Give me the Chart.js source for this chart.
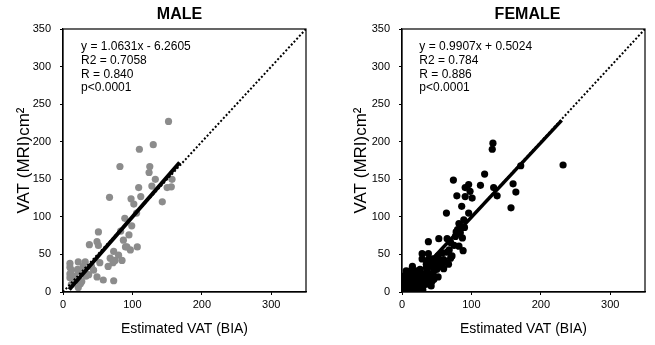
<!DOCTYPE html>
<html>
<head>
<meta charset="utf-8">
<script src="https://cdn.jsdelivr.net/npm/chart.js@4/dist/chart.umd.min.js"></script>
<style>
  body { margin: 0; background: #fff; }
  #wrap { position: relative; width: 655px; height: 345px; }
  canvas { position: absolute; top: 0; }
</style>
</head>
<body>
<div id="wrap">
  <canvas id="male" width="327" height="345" style="left:0"></canvas>
  <canvas id="female" width="328" height="345" style="left:327px"></canvas>
</div>
<script>
// axis ticks
const xTicks = [0, 100, 200, 300]
const axisMax = 350

// MALE scatter (estimated VAT by BIA vs VAT by MRI)
const maleX = [152, 110, 130, 82, 125, 124, 133, 128, 109, 112, 150, 157, 156, 143, 67, 98, 102, 106, 89, 99,
  51, 49, 51, 38, 83, 87, 95, 92, 107, 97, 90, 73, 68, 75, 80, 85, 72, 65, 53, 22, 32, 29, 41, 44,
  33, 49, 58, 73, 10, 10, 10, 10, 12, 22, 22, 25, 17, 27, 37, 21, 15, 12]
const maleY = [227, 190, 196, 167, 167, 159, 150, 141, 139, 127, 139, 150, 140, 120, 126, 124, 117, 105, 98, 88,
  80, 67, 62, 63, 81, 69, 76, 60, 60, 56, 60, 54, 45, 42, 49, 42, 39, 34, 39, 40, 40, 34, 34, 29,
  21, 20, 16, 15, 38, 33, 24, 19, 10, 6, 27, 11, 18, 14, 23, 30, 21, 29]

// FEMALE scatter
const femaleX = [131, 130, 232, 171, 119, 113, 74, 96, 91, 98, 91, 79, 101, 86, 96, 64, 132, 137, 160, 164,
  157, 82, 89, 80, 84, 87, 77, 53, 65, 38, 75, 82, 88, 68, 72, 58, 65, 29, 29, 38, 60, 53, 48, 67,
  36, 43, 48, 60, 15, 12, 22, 5, 1, 34, 46, 38, 29, 10, 17, 24, 5, 12, 19, 29, 34, 2, 7, 14, 24, 43,
  52, 9, 27, 18, 34, 27, 36, 55, 38, 42, 3, 8, 15, 20, 25, 31, 40, 45, 50, 57, 62, 70, 3, 10, 16, 22,
  30, 32, 42, 6, 1, 20, 26, 35, 44, 52, 70, 78, 84, 90]
const femaleY = [198, 190, 169, 168, 157, 142, 149, 143, 139, 134, 127, 128, 125, 114, 105, 105, 139, 128, 144, 133,
  112, 91, 96, 83, 79, 72, 74, 71, 71, 67, 62, 61, 55, 56, 48, 52, 53, 51, 44, 51, 43, 41, 39, 37,
  34, 34, 31, 31, 34, 28, 25, 21, 21, 21, 17, 19, 17, 14, 14, 13, 10, 8, 5, 7, 10, 4, 3, 2, 3, 14,
  20, 17, 21, 20, 14, 8, 28, 34, 43, 38, 14, 24, 22, 10, 17, 24, 22, 26, 30, 36, 40, 45, 8, 5, 17, 6,
  3, 13, 8, 28, 2, 28, 30, 37, 44, 48, 66, 80, 88, 86]

// regression fits: [slope, intercept] and the x span each line covers
const maleFit = [1.0631, -6.2605]
const maleFitRange = [9, 168]
const femaleFit = [0.9907, 0.5024]
const femaleFitRange = [30, 230]

const maleStats = ['y = 1.0631x - 6.2605', 'R2 = 0.7058', 'R = 0.840', 'p<0.0001']
const femaleStats = ['y = 0.9907x + 0.5024', 'R2 = 0.784', 'R = 0.886', 'p<0.0001']

const FONT = '"Liberation Sans", Arial, Helvetica, sans-serif'

const panelDecor = {
  id: 'panelDecor',
  afterDraw(chart, args, opts) {
    const { ctx, chartArea: a, scales } = chart
    ctx.save()
    ctx.strokeStyle = '#000'
    ctx.lineWidth = 1.2
    ctx.strokeRect(a.left, a.top, a.right - a.left, a.bottom - a.top)
    ctx.fillStyle = '#000'
    ctx.font = 'bold 16px ' + FONT
    ctx.textAlign = 'center'
    ctx.textBaseline = 'middle'
    ctx.fillText(opts.title, (a.left + a.right) / 2 + opts.titleShift, 15)
    ctx.font = '12px ' + FONT
    ctx.textAlign = 'left'
    const tx = scales.x.getPixelForValue(opts.textAt[0])
    const ty = scales.y.getPixelForValue(opts.textAt[1])
    opts.lines.forEach((t, i) => ctx.fillText(t, tx, ty + i * 13.6))
    ctx.restore()
  },
}

function points(xs, ys) {
  return xs.map((x, i) => ({ x: x, y: ys[i] }))
}

function fitLine(fit, range) {
  return range.map(x => ({ x: x, y: fit[0] * x + fit[1] }))
}

function makePanel(id, opts) {
  const ctx = document.getElementById(id).getContext('2d')
  return new Chart(ctx, {
    type: 'scatter',
    data: {
      datasets: [
        {
          data: fitLine(opts.fit, opts.fitRange),
          showLine: true,
          borderColor: '#000',
          borderWidth: opts.fitWidth,
          pointRadius: 0,
        },
        {
          data: [{ x: 0, y: 0 }, { x: axisMax, y: axisMax }],
          showLine: true,
          borderColor: '#000',
          borderWidth: 2,
          borderDash: [2, 2],
          pointRadius: 0,
        },
        {
          data: points(opts.xs, opts.ys),
          backgroundColor: opts.color,
          borderWidth: 0,
          pointRadius: 3.6,
        },
      ],
    },
    options: {
      responsive: false,
      animation: false,
      layout: { padding: { left: 0, right: opts.rightPad, top: 29, bottom: 0 } },
      plugins: {
        legend: { display: false },
        tooltip: { enabled: false },
        panelDecor: {
          title: opts.title,
          titleShift: opts.titleShift,
          lines: opts.stats,
          textAt: opts.textAt,
        },
      },
      scales: {
        x: {
          type: 'linear',
          min: 0,
          max: axisMax,
          afterFit: scale => { scale.height = 53 },
          afterBuildTicks: scale => { scale.ticks = xTicks.map(v => ({ value: v })) },
          grid: { drawOnChartArea: false, tickLength: 3, color: '#000' },
          border: { color: '#000', width: 1.2 },
          ticks: { color: '#000', padding: 3, maxRotation: 0, font: { family: FONT, size: 11 } },
          title: {
            display: true,
            text: 'Estimated VAT (BIA)',
            color: '#000',
            font: { family: FONT, size: 14 },
            padding: { top: 4, bottom: 7 },
          },
        },
        y: {
          min: 0,
          max: axisMax,
          afterFit: scale => { scale.width = opts.yWidth },
          grid: { drawOnChartArea: false, tickLength: 3, color: '#000' },
          border: { color: '#000', width: 1.2 },
          ticks: { color: '#000', stepSize: 50, padding: 9, font: { family: FONT, size: 11 } },
          title: {
            display: true,
            text: 'VAT (MRI)cm²',
            color: '#000',
            font: { family: FONT, size: 17 },
            padding: { top: opts.yTitlePad, bottom: 0 },
          },
        },
      },
    },
    plugins: [panelDecor],
  })
}

makePanel('male', {
  title: 'MALE',
  titleShift: -5,
  xs: maleX,
  ys: maleY,
  color: '#8c8c8c',
  fit: maleFit,
  fitRange: maleFitRange,
  fitWidth: 4,
  stats: maleStats,
  textAt: [26, 326],
  rightPad: 21,
  yWidth: 63,
  yTitlePad: 14,
})

makePanel('female', {
  title: 'FEMALE',
  titleShift: 4,
  xs: femaleX,
  ys: femaleY,
  color: '#000',
  fit: femaleFit,
  fitRange: femaleFitRange,
  fitWidth: 3.5,
  stats: femaleStats,
  textAt: [25, 326],
  rightPad: 10,
  yWidth: 75,
  yTitlePad: 24,
})
</script>
</body>
</html>
